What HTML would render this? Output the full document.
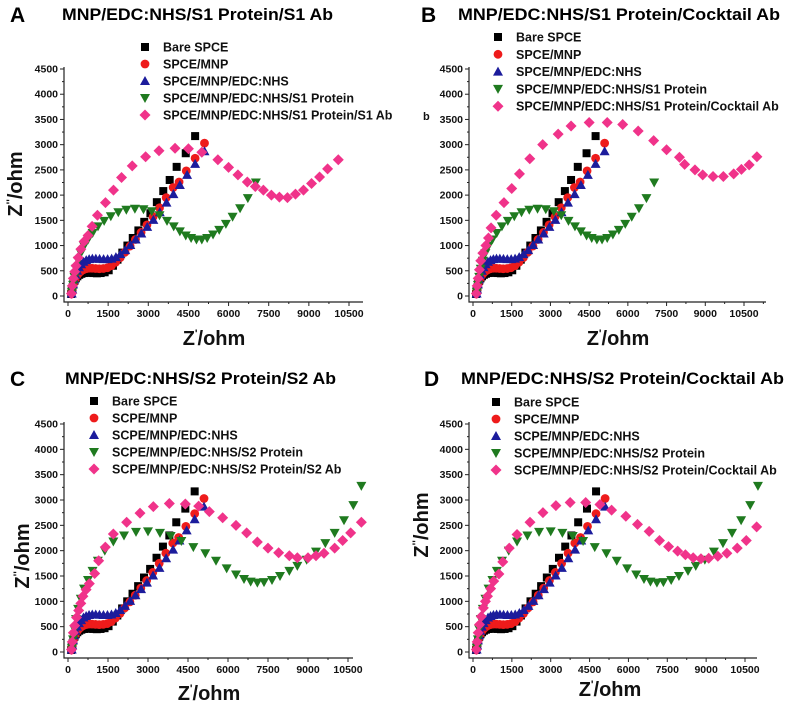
<!DOCTYPE html>
<html><head><meta charset="utf-8">
<style>
html,body{margin:0;padding:0;background:#fff;}
svg{display:block;font-family:"Liberation Sans",Arial,sans-serif;}
</style></head>
<body>
<svg id="fig" width="792" height="705" viewBox="0 0 792 705" xmlns="http://www.w3.org/2000/svg"></svg>
<script>
// ---- shared data (ohm) ----
const bareX = [120,140,170,200,240,290,350,420,500,600,700,820,950,1080,1220,1370,1520,1680,1850,2030,2220,2420,2630,2850,3080,3320,3560,3800,4060,4400,4750];
const bareY = [40,100,170,240,300,350,390,420,440,455,460,460,455,450,455,470,510,600,720,860,1000,1150,1300,1470,1640,1860,2080,2300,2560,2830,3170];
const mnpX = [130,150,180,220,270,330,400,480,570,670,780,900,1030,1170,1320,1470,1620,1780,1950,2130,2320,2520,2730,2950,3180,3420,3670,3930,4150,4420,4750,5100];
const mnpY = [40,110,190,270,340,400,450,490,520,540,550,550,545,540,545,560,600,670,760,870,990,1120,1260,1410,1570,1750,1950,2150,2260,2480,2730,3030];
const edcX = [140,160,190,230,280,340,410,490,580,680,790,910,1040,1180,1330,1480,1630,1790,1960,2140,2330,2530,2740,2960,3190,3430,3680,3940,4180,4450,4750,5100];
const edcY = [50,130,230,330,420,500,570,630,680,710,730,740,740,735,730,730,740,770,830,910,1010,1120,1240,1370,1510,1660,1850,2020,2200,2400,2620,2870];
const s1ProtX = [150,190,240,300,380,480,600,750,920,1120,1350,1600,1880,2180,2500,2820,3130,3420,3700,3950,4180,4400,4600,4800,5000,5200,5420,5650,5900,6150,6430,6720,7020];
const s1ProtY = [80,220,380,540,700,850,990,1120,1250,1380,1490,1580,1660,1710,1730,1720,1680,1600,1490,1380,1280,1200,1150,1120,1120,1150,1220,1310,1430,1570,1740,1940,2250];
const s2ProtX = [150,190,240,300,380,480,600,750,920,1120,1380,1700,2100,2550,3000,3450,3850,4250,4700,5150,5550,5950,6300,6600,6850,7100,7350,7650,7950,8300,8600,8950,9300,9650,10000,10350,10700,11000];
const s2ProtY = [80,250,450,650,850,1050,1250,1420,1600,1800,2000,2180,2300,2370,2380,2350,2290,2190,2070,1950,1800,1650,1530,1440,1390,1370,1380,1420,1500,1600,1700,1820,1980,2150,2350,2600,2900,3280];
const abAX = [130,160,200,250,300,380,480,600,750,900,1100,1400,1700,2000,2400,2900,3400,4000,4500,5000,5600,6000,6350,6700,7000,7300,7600,7900,8200,8500,8800,9100,9400,9700,10100];
const abAY = [50,200,350,480,600,760,930,1080,1200,1380,1600,1850,2100,2350,2580,2760,2880,2930,2920,2850,2700,2550,2400,2260,2170,2100,2000,1960,1950,2020,2100,2230,2360,2520,2700];
const abBX = [130,160,200,250,300,380,500,600,700,900,1200,1500,1800,2200,2700,3300,3800,4500,5200,5800,6400,7000,7500,8000,8200,8600,8900,9300,9700,10100,10400,10700,11000];
const abBY = [50,200,350,520,700,850,1000,1150,1350,1600,1850,2130,2420,2720,3000,3210,3370,3440,3440,3400,3270,3080,2900,2750,2610,2500,2400,2370,2370,2420,2510,2600,2760];
const abCX = [130,160,200,250,320,400,480,560,680,800,1000,1150,1400,1700,2200,2700,3200,3800,4400,4900,5300,5800,6300,6700,7100,7500,7900,8300,8600,9000,9300,9600,10000,10300,10600,11000];
const abCY = [50,200,380,520,680,820,960,1100,1230,1350,1550,1800,2070,2330,2560,2740,2870,2930,2920,2880,2770,2650,2500,2350,2170,2050,1960,1900,1860,1860,1900,1950,2050,2200,2350,2560];
const abDX = [130,160,200,250,320,400,480,560,680,800,1000,1150,1400,1700,2200,2700,3200,3750,4350,4900,5350,5900,6350,6800,7200,7550,7900,8200,8500,8800,9100,9450,9800,10200,10550,10950];
const abDY = [50,200,380,540,700,870,1000,1100,1250,1400,1540,1780,2050,2320,2560,2750,2890,2950,2950,2910,2800,2680,2520,2380,2200,2080,1990,1920,1860,1840,1850,1890,1950,2050,2200,2470];
const yTicks = [0,500,1000,1500,2000,2500,3000,3500,4000,4500];
const xTicks = [0,1500,3000,4500,6000,7500,9000,10500];
const legendS1A = ["Bare SPCE","SPCE/MNP","SPCE/MNP/EDC:NHS","SPCE/MNP/EDC:NHS/S1 Protein","SPCE/MNP/EDC:NHS/S1 Protein/S1 Ab"];
const legendS1B = ["Bare SPCE","SPCE/MNP","SPCE/MNP/EDC:NHS","SPCE/MNP/EDC:NHS/S1 Protein","SPCE/MNP/EDC:NHS/S1 Protein/Cocktail Ab"];
const legendS2C = ["Bare SPCE","SCPE/MNP","SCPE/MNP/EDC:NHS","SCPE/MNP/EDC:NHS/S2 Protein","SCPE/MNP/EDC:NHS/S2 Protein/S2 Ab"];
const legendS2D = ["Bare SPCE","SPCE/MNP","SCPE/MNP/EDC:NHS","SCPE/MNP/EDC:NHS/S2 Protein","SCPE/MNP/EDC:NHS/S2 Protein/Cocktail Ab"];

const NS = "http://www.w3.org/2000/svg";
const svg = document.getElementById('fig');
const colors = ["#000000","#ee1b1b","#1c1c9c","#1f7a1f","#f0338a"];
const shapes = ["square","circle","tri","tridown","diamond"];

function mk(tag, attrs, parent){
  const e = document.createElementNS(NS, tag);
  for (const k in attrs) e.setAttribute(k, attrs[k]);
  (parent||svg).appendChild(e);
  return e;
}
function marker(shape, cx, cy, color, g){
  let e;
  if (shape==="square") e = mk('rect',{x:cx-4,y:cy-4,width:8,height:8,fill:color},g);
  else if (shape==="circle") e = mk('circle',{cx:cx,cy:cy,r:4.4,fill:color},g);
  else if (shape==="tri") e = mk('polygon',{points:`${cx},${cy-5} ${cx+5},${cy+4} ${cx-5},${cy+4}`,fill:color},g);
  else if (shape==="tridown") e = mk('polygon',{points:`${cx},${cy+5} ${cx+5},${cy-4} ${cx-5},${cy-4}`,fill:color},g);
  else e = mk('polygon',{points:`${cx},${cy-5.5} ${cx+5.5},${cy} ${cx},${cy+5.5} ${cx-5.5},${cy}`,fill:color},g);
  return e;
}

const panels = [
 {id:'a', letter:'A', title:'MNP/EDC:NHS/S1 Protein/S1 Ab', lx:10, tx:62, tw:271, ty:20,
  x0:68, x105:349, xEnd:363, y0:296, y45:69, legX:145, legY:47, legDy:17, legend:legendS1A,
  series:[[bareX,bareY],[mnpX,mnpY],[edcX,edcY],[s1ProtX,s1ProtY],[abAX,abAY]],
  xtX:214, xtY:345, ytX:22, ytY:184},
 {id:'b', letter:'B', title:'MNP/EDC:NHS/S1 Protein/Cocktail Ab', lx:421, tx:458, tw:322, ty:20,
  x0:473, x105:744, xEnd:766, y0:296, y45:69, legX:498, legY:37, legDy:17.3, legend:legendS1B,
  series:[[bareX,bareY],[mnpX,mnpY],[edcX,edcY],[s1ProtX,s1ProtY],[abBX,abBY]],
  xtX:618, xtY:345, ytX:422, ytY:198, clipY:true},
 {id:'c', letter:'C', title:'MNP/EDC:NHS/S2 Protein/S2 Ab', lx:10, tx:65, tw:271, ty:384,
  x0:68, x105:348, xEnd:353, y0:652, y45:424, legX:94, legY:401, legDy:17, legend:legendS2C,
  series:[[bareX,bareY],[mnpX,mnpY],[edcX,edcY],[s2ProtX,s2ProtY],[abCX,abCY]],
  xtX:209, xtY:700, ytX:29, ytY:556},
 {id:'d', letter:'D', title:'MNP/EDC:NHS/S2 Protein/Cocktail Ab', lx:424, tx:461, tw:323, ty:384,
  x0:473, x105:745, xEnd:757, y0:652, y45:424, legX:496, legY:402, legDy:17, legend:legendS2D,
  series:[[bareX,bareY],[mnpX,mnpY],[edcX,edcY],[s2ProtX,s2ProtY],[abDX,abDY]],
  xtX:610, xtY:696, ytX:428, ytY:525}
];

panels.forEach(p=>{
  const g = mk('g',{});
  
  
  const sx = v => p.x0 + (v/10500)*(p.x105-p.x0);
  const sy = v => p.y0 - (v/4500)*(p.y0-p.y45);
  const L = mk('text',{x:p.lx,y:p.ty+2,'font-size':21,'font-weight':'bold',fill:'#000'},g);
  L.textContent = p.letter;
  
  
  const T = mk('text',{x:p.tx,y:p.ty,'font-size':17,'font-weight':'bold',fill:'#000',textLength:p.tw,lengthAdjust:'spacingAndGlyphs'},g);
  T.textContent = p.title;
  
  
  const ax = mk('path',{d:`M${p.x0-4},${p.y45-2} L${p.x0-4},${p.y0+6} L${p.xEnd},${p.y0+6}`,fill:'none',stroke:'#222','stroke-width':1.2},g);
  
  
  const ax0 = p.x0-4, ay0 = p.y0+6;
  yTicks.forEach((t,i)=>{
    const y = sy(t);
    mk('line',{x1:ax0-4,y1:y,x2:ax0,y2:y,stroke:'#222','stroke-width':1},g);
    if (i<yTicks.length-1){ const ym=sy(t+250); mk('line',{x1:ax0-2,y1:ym,x2:ax0,y2:ym,stroke:'#222','stroke-width':1},g);}
    const tl = mk('text',{x:ax0-6,y:y+3.5,'font-size':10.5,'font-weight':'bold','text-anchor':'end',fill:'#111'},g);
    tl.textContent = t;
    
    
  });
  xTicks.forEach((t)=>{
    const x = sx(t);
    mk('line',{x1:x,y1:ay0,x2:x,y2:ay0+4,stroke:'#222','stroke-width':1},g);
    const xm = sx(t+750);
    if (xm<=p.xEnd) mk('line',{x1:xm,y1:ay0,x2:xm,y2:ay0+2,stroke:'#222','stroke-width':1},g);
    const tl = mk('text',{x:x,y:ay0+15,'font-size':10.5,'font-weight':'bold','text-anchor':'middle',fill:'#111'},g);
    tl.textContent = t;
    
    
  });
  const xt = mk('text',{x:p.xtX,y:p.xtY,'font-size':20,'font-weight':'bold','text-anchor':'middle',fill:'#111'},g);
  xt.innerHTML = 'Z<tspan dy="-8" font-size="11">\'</tspan><tspan dy="8">/ohm</tspan>';
  
  
  let yg = g;
  if (p.clipY){
    const cp = mk('clipPath',{id:'clipb'},g);
    mk('rect',{x:423,y:100,width:10,height:200},cp);
    yg = mk('g',{'clip-path':'url(#clipb)'},g);
    const sb = mk('text',{x:423,y:120,'font-size':11,'font-weight':'bold',fill:'#111'},g);
    sb.textContent = 'b';
    
    
  }
  const yt = mk('text',{x:0,y:0,'font-size':20,'font-weight':'bold','text-anchor':'middle',fill:'#111',transform:`translate(${p.ytX},${p.ytY}) rotate(-90)`},yg);
  yt.innerHTML = 'Z<tspan dy="-8" font-size="11">\'\'</tspan><tspan dy="8">/ohm</tspan>';
  
  
  p.series.forEach((s,si)=>{
    const sg = mk('g',{},g);
    
    
    s[0].forEach((xv,k)=>{
      const m = marker(shapes[si], sx(xv), sy(s[1][k]), colors[si], sg);
      
      
    });
  });
  p.legend.forEach((lab,i)=>{
    const y = p.legY + i*p.legDy;
    const lg = mk('g',{},g);
    
    
    marker(shapes[i], p.legX, y, colors[i], lg);
    const lt = mk('text',{x:p.legX+18,y:y+4.5,'font-size':12.5,'font-weight':'bold',fill:'#111'},lg);
    lt.textContent = lab;
  });
});
</script>
</body></html>
